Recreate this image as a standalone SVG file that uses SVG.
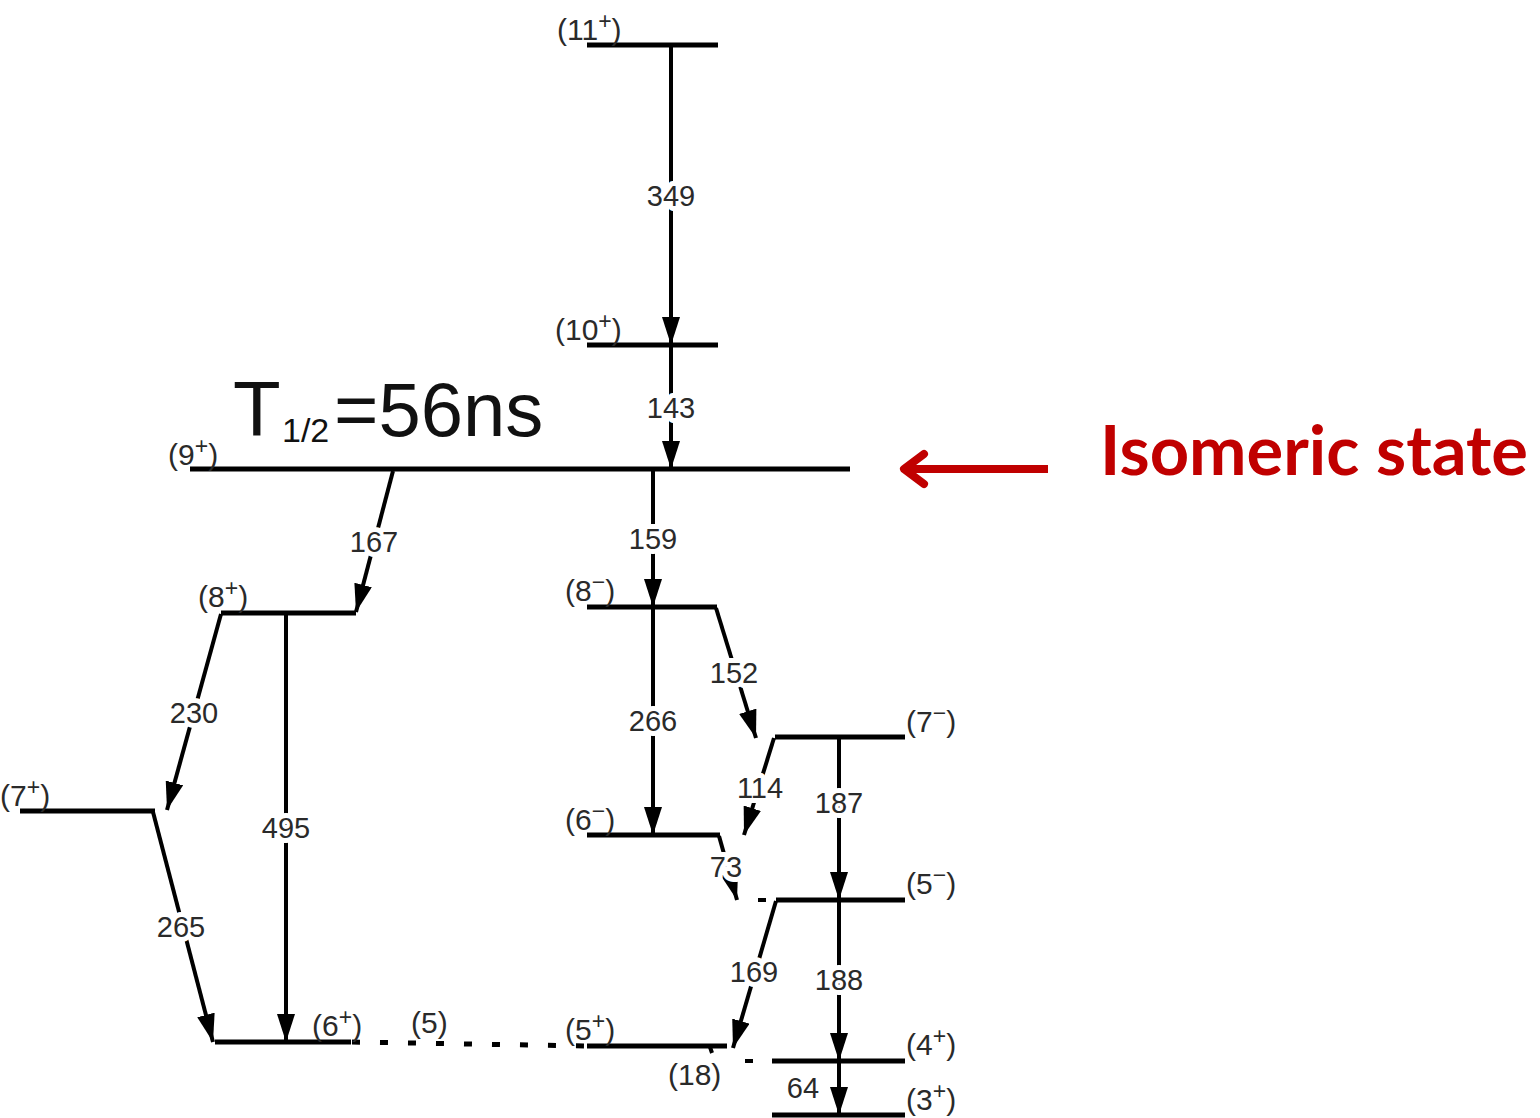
<svg xmlns="http://www.w3.org/2000/svg" width="1540" height="1118" viewBox="0 0 1540 1118">
<style>
.lvl{stroke:#000;stroke-width:5;fill:none}
.tr{stroke:#000;stroke-width:4;fill:none}
.arr{marker-end:url(#ah)}
.lab{font-family:"Liberation Sans",Arial,sans-serif;font-size:30px;fill:#2a2a2a}
.num{font-family:"Liberation Sans",Arial,sans-serif;font-size:29px;fill:#2a2a2a;text-anchor:middle;stroke:#fff;stroke-width:10px;paint-order:stroke;stroke-linejoin:round}
.sup{font-size:23px}
</style>
<defs>
<marker id="ah" markerUnits="userSpaceOnUse" markerWidth="30" markerHeight="20" refX="28" refY="9" orient="auto" viewBox="0 0 30 20">
<path d="M0,0 L28,9 L0,18 z" fill="#000"/>
</marker>
</defs>
<rect width="1540" height="1118" fill="#fff"/>

<g id="connectors">
<line class="tr arr" x1="671" y1="47" x2="671" y2="345"/>
<line class="tr arr" x1="671" y1="347" x2="671" y2="469"/>
<line class="tr arr" x1="393" y1="471" x2="356" y2="612"/>
<line class="tr arr" x1="653" y1="471" x2="653" y2="607"/>
<line class="tr arr" x1="221" y1="614" x2="167" y2="810"/>
<line class="tr arr" x1="286" y1="615" x2="286" y2="1042"/>
<line class="tr arr" x1="153" y1="812" x2="213" y2="1042"/>
<line class="tr arr" x1="653" y1="609" x2="653" y2="835"/>
<line class="tr arr" x1="716" y1="608" x2="756" y2="738"/>
<line class="tr arr" x1="774" y1="738" x2="744" y2="835"/>
<line class="tr arr" x1="839" y1="739" x2="839" y2="900"/>
<line class="tr arr" x1="719" y1="836" x2="737" y2="900"/>
<line class="tr" x1="758" y1="900" x2="766" y2="900"/>
<line class="tr arr" x1="776" y1="901" x2="733" y2="1048"/>
<line class="tr arr" x1="839" y1="902" x2="839" y2="1061"/>
<line class="tr arr" x1="839" y1="1063" x2="839" y2="1115"/>
<path d="M352,1042 L587,1046" class="lvl" stroke-dasharray="8 20"/>
<line class="tr" x1="710" y1="1047" x2="712" y2="1053"/>
<line class="tr" x1="745" y1="1061" x2="753" y2="1061"/>
</g>

<g id="levels">
<g id="l11"><line class="lvl" x1="587" y1="45" x2="718" y2="45"/><text class="lab" x="557" y="40">(11<tspan class="sup" dy="-11">+</tspan><tspan dy="11">)</tspan></text></g>
<g id="l10"><line class="lvl" x1="587" y1="345" x2="718" y2="345"/><text class="lab" x="555" y="340">(10<tspan class="sup" dy="-11">+</tspan><tspan dy="11">)</tspan></text></g>
<g id="l9"><line class="lvl" x1="190" y1="469" x2="850" y2="469"/><text class="lab" x="168" y="465">(9<tspan class="sup" dy="-11">+</tspan><tspan dy="11">)</tspan></text></g>
<g id="l8p"><line class="lvl" x1="221" y1="613" x2="356" y2="613"/><text class="lab" x="198" y="607">(8<tspan class="sup" dy="-11">+</tspan><tspan dy="11">)</tspan></text></g>
<g id="l8m"><line class="lvl" x1="587" y1="607" x2="717" y2="607"/><text class="lab" x="565" y="601">(8<tspan class="sup" dy="-11">−</tspan><tspan dy="11">)</tspan></text></g>
<g id="l7m"><line class="lvl" x1="775" y1="737" x2="905" y2="737"/><text class="lab" x="906" y="732">(7<tspan class="sup" dy="-11">−</tspan><tspan dy="11">)</tspan></text></g>
<g id="l7p"><line class="lvl" x1="20" y1="811" x2="155" y2="811"/><text class="lab" x="0" y="806">(7<tspan class="sup" dy="-11">+</tspan><tspan dy="11">)</tspan></text></g>
<g id="l6m"><line class="lvl" x1="587" y1="835" x2="720" y2="835"/><text class="lab" x="565" y="830">(6<tspan class="sup" dy="-11">−</tspan><tspan dy="11">)</tspan></text></g>
<g id="l5m"><line class="lvl" x1="776" y1="900" x2="905" y2="900"/><text class="lab" x="906" y="894">(5<tspan class="sup" dy="-11">−</tspan><tspan dy="11">)</tspan></text></g>
<g id="l6p"><line class="lvl" x1="215" y1="1042" x2="351" y2="1042"/><text class="lab" x="312" y="1036">(6<tspan class="sup" dy="-11">+</tspan><tspan dy="11">)</tspan></text></g>
<g id="l5"><text class="lab" x="411" y="1033">(5)</text></g>
<g id="l5p"><line class="lvl" x1="587" y1="1046" x2="727" y2="1046"/><text class="lab" x="565" y="1040">(5<tspan class="sup" dy="-11">+</tspan><tspan dy="11">)</tspan></text></g>
<g id="l18"><text class="lab" x="668" y="1085">(18)</text></g>
<g id="l4p"><line class="lvl" x1="772" y1="1061" x2="905" y2="1061"/><text class="lab" x="906" y="1055">(4<tspan class="sup" dy="-11">+</tspan><tspan dy="11">)</tspan></text></g>
<g id="l3p"><line class="lvl" x1="772" y1="1115" x2="905" y2="1115"/><text class="lab" x="906" y="1110">(3<tspan class="sup" dy="-11">+</tspan><tspan dy="11">)</tspan></text></g>
</g>

<g id="energies">
<text class="num" x="671" y="206">349</text>
<text class="num" x="671" y="418">143</text>
<text class="num" x="374" y="552">167</text>
<text class="num" x="653" y="549">159</text>
<text class="num" x="194" y="723">230</text>
<text class="num" x="286" y="838">495</text>
<text class="num" x="181" y="937">265</text>
<text class="num" x="653" y="731">266</text>
<text class="num" x="734" y="683">152</text>
<text class="num" x="760" y="798">114</text>
<text class="num" x="839" y="813">187</text>
<text class="num" x="726" y="877">73</text>
<text class="num" x="754" y="982">169</text>
<text class="num" x="839" y="990">188</text>
<text class="num" x="803" y="1098">64</text>
</g>

<g id="halflife" font-family="Liberation Sans,Arial,sans-serif" fill="#111">
<text x="233" y="436" font-size="78">T</text>
<text x="282" y="442" font-size="34">1/2</text>
<text x="334" y="436" font-size="76">=56ns</text>
</g>

<g id="isomer">
<line x1="906" y1="469" x2="1048" y2="469" stroke="#C00000" stroke-width="8"/>
<polyline points="924,454 904,469 924,484" fill="none" stroke="#C00000" stroke-width="8" stroke-linecap="round" stroke-linejoin="round"/>
<text x="1100" y="475" font-family="Lato,Noto Sans,sans-serif" font-weight="bold" font-size="68" fill="#C00000" textLength="428" lengthAdjust="spacingAndGlyphs">Isomeric state</text>
</g>
</svg>
